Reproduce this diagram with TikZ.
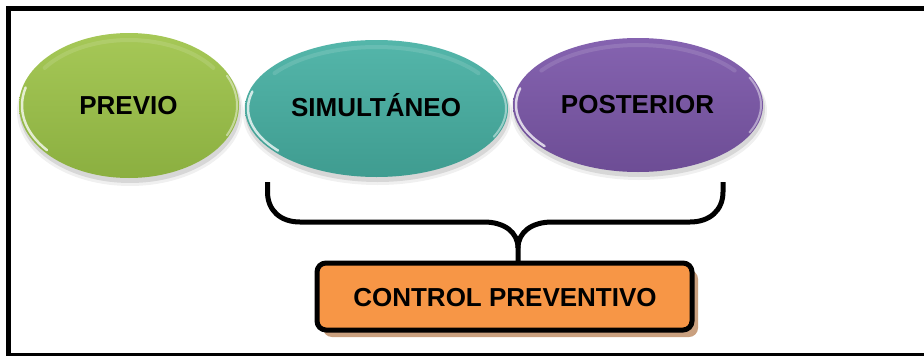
\documentclass[tikz,border=0pt]{standalone}
\usepackage{fontspec}
\setmainfont{Liberation Sans}
\usetikzlibrary{shapes.geometric}
\definecolor{greenTop}{HTML}{A6C857}
\definecolor{greenBot}{HTML}{8BAF40}
\definecolor{tealTop}{HTML}{54B6AA}
\definecolor{tealBot}{HTML}{3F9C90}
\definecolor{purpTop}{HTML}{8563B0}
\definecolor{purpBot}{HTML}{6D4D95}
\definecolor{orangeFill}{HTML}{F79646}
\definecolor{orangeShadow}{HTML}{C9A07F}
\tikzset{
  lbl/.style={font=\fontsize{26}{30}\selectfont\bfseries, text height=18.6pt, text depth=0pt},
  oval/.style={ellipse, inner sep=0pt, lbl},
  ovalshadow/.style={fill=black, opacity=0.10},
  gloss/.style={white, line cap=round},
  bracket/.style={line width=5pt, line cap=butt, line join=round},
  ctrlbox/.style={draw=black, line width=5pt, fill=orangeFill, rounded corners=9pt, lbl, inner sep=0pt},
  frameline/.style={line width=4.5pt, draw=black}
}
\begin{document}
\begin{tikzpicture}[x=1pt, y=-1pt]
\useasboundingbox (0,0) rectangle (924,356);
\fill[white] (0,0) rectangle (924,356);
% frame
\draw[frameline] (8.5,8.5) rectangle (935,355.5);

% soft shadows of the ovals
\foreach \cx/\cy/\rx/\ry in {129/105.5/110/72.5, 376.5/108.5/131.5/68.5, 638/105/125/67}{
  \fill[ovalshadow] (\cx+1,\cy+4) ellipse [x radius=\rx+1, y radius=\ry+1];
  \fill[ovalshadow, opacity=0.06] (\cx+1,\cy+6) ellipse [x radius=\rx+3, y radius=\ry+2];
}

% ovals
\node[oval, minimum width=220pt, minimum height=145pt, top color=greenTop, bottom color=greenBot] (previo) at (129,105.5) {};
\node[oval, minimum width=263pt, minimum height=137pt, top color=tealTop, bottom color=tealBot] (simul) at (376.5,108.5) {};
\node[oval, minimum width=250pt, minimum height=134pt, top color=purpTop, bottom color=purpBot] (poster) at (638,105) {};

% gloss highlights
\foreach \cx/\cy/\rx/\ry in {129/105.5/110/72.5, 376.5/108.5/131.5/68.5, 638/105/125/67}{
  \draw[gloss, line width=2.5pt, opacity=0.75]
    ({\cx+(\rx-3)*cos(140)},{\cy+(\ry-3)*sin(140)}) arc[start angle=140, end angle=195, x radius=\rx-3, y radius=\ry-3];
  \draw[gloss, line width=4pt, opacity=0.12]
    ({\cx+(\rx-7)*cos(215)},{\cy+(\ry-7)*sin(215)}) arc[start angle=215, end angle=325, x radius=\rx-7, y radius=\ry-7];
  \draw[gloss, line width=2pt, opacity=0.45]
    ({\cx+(\rx-2)*cos(-25)},{\cy+(\ry-2)*sin(-25)}) arc[start angle=-25, end angle=25, x radius=\rx-2, y radius=\ry-2];
}

% labels
\node[lbl] at (128.5,105) {PREVIO};
\node[lbl] at (376,107.5) {SIMULTÁNEO};
\node[lbl] at (637.5,104) {POSTERIOR};

% control box
\fill[orangeShadow, rounded corners=9pt] (323,270) rectangle (698,337);
\node[ctrlbox, minimum width=375pt, minimum height=67pt] (ctrl) at (504.5,296.5) {};
\node[lbl] at (505,297) {CONTROL PREVENTIVO};

% bracket
\coordinate (bl) at (267.5,182);
\coordinate (br) at (723,182);
\coordinate (tip) at (518,261);
\draw[bracket] (bl) -- (267.5,192) .. controls (267.5,210) and (280,222) .. (300,222)
   -- (484,222) .. controls (504,222) and (518,232) .. (518,248) -- (tip);
\draw[bracket] (br) -- (723,192) .. controls (723,210) and (710,222) .. (690,222)
   -- (552,222) .. controls (532,222) and (518,232) .. (518,248);
\end{tikzpicture}
\end{document}
